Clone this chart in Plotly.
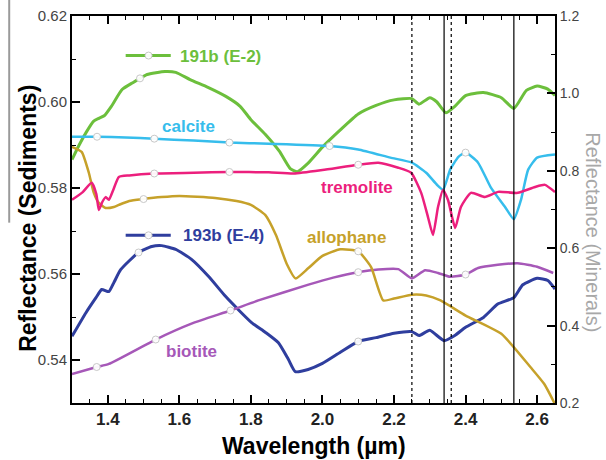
import plotly.graph_objects as go

# ---------------- data ----------------
# Sediment spectra (left axis)
e2_x = [1.30, 1.32, 1.34, 1.36, 1.375, 1.39, 1.41, 1.44, 1.47, 1.49, 1.51, 1.56, 1.59, 1.63, 1.68, 1.73,
        1.77, 1.80, 1.84, 1.88, 1.91, 1.93, 1.96, 2.00, 2.05, 2.10, 2.15, 2.20, 2.25, 2.27, 2.30, 2.32,
        2.345, 2.37, 2.40, 2.45, 2.50, 2.535, 2.57, 2.60, 2.63, 2.65]
e2_y = [0.5866, 0.5900, 0.5930, 0.5955, 0.5962, 0.5968, 0.5990, 0.6029, 0.6045, 0.6055, 0.6064, 0.6071,
        0.6069, 0.6052, 0.6034, 0.6013, 0.5990, 0.5959, 0.5925, 0.5885, 0.5845, 0.5838, 0.5858, 0.5895,
        0.5935, 0.5972, 0.5992, 0.6005, 0.6008, 0.5995, 0.6010, 0.6000, 0.5975, 0.5990, 0.6015, 0.6022,
        0.6010, 0.5985, 0.6027, 0.6037, 0.6030, 0.6015]

e4_x = [1.30, 1.339, 1.367, 1.383, 1.403, 1.417, 1.436, 1.486, 1.523, 1.551, 1.59, 1.634, 1.682, 1.729,
        1.765, 1.802, 1.841, 1.877, 1.905, 1.924, 1.96, 2.00, 2.05, 2.10, 2.15, 2.20, 2.25, 2.27, 2.30,
        2.34, 2.37, 2.40, 2.45, 2.49, 2.535, 2.56, 2.60, 2.63, 2.65]
e4_y = [0.5455, 0.5510, 0.5545, 0.5564, 0.5559, 0.5580, 0.5610, 0.5650, 0.5664, 0.5666, 0.5657, 0.5634,
        0.5594, 0.5548, 0.5517, 0.5487, 0.5464, 0.5440, 0.5401, 0.5373, 0.5378, 0.5392, 0.5418, 0.5443,
        0.5452, 0.5462, 0.5466, 0.5457, 0.5469, 0.5445, 0.5457, 0.5476, 0.5499, 0.5530, 0.5545, 0.5575,
        0.5590, 0.5585, 0.5565]

# Mineral spectra (right axis)
cal_x = [1.30, 1.37, 1.45, 1.53, 1.64, 1.74, 1.85, 2.02, 2.10, 2.19, 2.25, 2.29, 2.32, 2.337, 2.357,
         2.38, 2.40, 2.435, 2.47, 2.51, 2.535, 2.555, 2.575, 2.60, 2.65]
cal_y = [0.888, 0.888, 0.886, 0.883, 0.878, 0.873, 0.870, 0.864, 0.855, 0.834, 0.821, 0.795, 0.764,
         0.751, 0.803, 0.836, 0.847, 0.821, 0.758, 0.707, 0.675, 0.725, 0.803, 0.834, 0.842]

tre_x = [1.30, 1.33, 1.355, 1.368, 1.375, 1.385, 1.394, 1.403, 1.415, 1.431, 1.46, 1.53, 1.64, 1.74,
         1.85, 1.92, 2.00, 2.10, 2.156, 2.212, 2.248, 2.276, 2.295, 2.309, 2.323, 2.337, 2.351, 2.371,
         2.387, 2.415, 2.454, 2.491, 2.546, 2.594, 2.622, 2.65]
tre_y = [0.725, 0.745, 0.769, 0.740, 0.699, 0.720, 0.732, 0.725, 0.750, 0.784, 0.788, 0.793, 0.795,
         0.797, 0.796, 0.793, 0.802, 0.8156, 0.8208, 0.808, 0.795, 0.743, 0.6805, 0.634, 0.7065, 0.7506,
         0.7247, 0.652, 0.7065, 0.743, 0.7325, 0.7455, 0.743, 0.758, 0.7636, 0.745]

allo_x = [1.30, 1.327, 1.347, 1.361, 1.375, 1.394, 1.417, 1.431, 1.46, 1.50, 1.55, 1.60, 1.70, 1.76,
          1.80, 1.84, 1.87, 1.90, 1.925, 1.96, 2.00, 2.05, 2.10, 2.136, 2.17, 2.20, 2.25, 2.29, 2.33,
          2.40, 2.50, 2.583, 2.62, 2.65]
allo_y = [0.862, 0.849, 0.795, 0.743, 0.717, 0.704, 0.7065, 0.712, 0.722, 0.727, 0.732, 0.735, 0.730,
          0.722, 0.712, 0.686, 0.634, 0.560, 0.522, 0.548, 0.580, 0.597, 0.592, 0.551, 0.465, 0.470,
          0.480, 0.478, 0.465, 0.426, 0.379, 0.291, 0.249, 0.197]

bio_x = [1.30, 1.369, 1.403, 1.534, 1.634, 1.743, 1.821, 1.961, 2.03, 2.10, 2.156, 2.212, 2.25, 2.287,
         2.323, 2.357, 2.40, 2.435, 2.49, 2.546, 2.60, 2.645]
bio_y = [0.275, 0.293, 0.301, 0.364, 0.405, 0.439, 0.465, 0.506, 0.524, 0.538, 0.545, 0.546, 0.522,
         0.543, 0.536, 0.526, 0.532, 0.549, 0.557, 0.561, 0.552, 0.536]

# marker positions (x values taken from the series above)
e2_mk = [1.49]
e4_mk = [1.486, 2.10]
cal_mk = [1.37, 1.53, 1.74, 2.02, 2.40]
tre_mk = [1.53, 1.74, 2.10]
allo_mk = [1.50, 2.10]
bio_mk = [1.369, 1.534, 1.743, 2.10, 2.40]

# absorption feature lines
vl_solid = [2.34, 2.535]
vl_dot = [2.25, 2.36]

# ---------------- style ----------------
GREEN = "#6cbf3c"
BLUE = "#2f3e9e"
CYAN = "#36bdec"
PINK = "#ec1f7d"
GOLD = "#c6a12a"
PURPLE = "#a658b8"
FONT = "Liberation Sans, Arial, sans-serif"

fig = go.Figure()


def add_series(xs, ys, mk, color, axis, width):
    fig.add_trace(go.Scatter(x=xs, y=ys, mode="lines", yaxis=axis,
                             line=dict(color=color, width=width, shape="spline", smoothing=0.5),
                             hoverinfo="skip", showlegend=False))
    my = [ys[xs.index(v)] for v in mk]
    fig.add_trace(go.Scatter(x=mk, y=my, mode="markers", yaxis=axis,
                             marker=dict(symbol="circle", size=7, color="rgba(255,255,255,0.95)",
                                         line=dict(color="#c8c8c8", width=1)),
                             hoverinfo="skip", showlegend=False))


add_series(bio_x, bio_y, bio_mk, PURPLE, "y2", 2.5)
add_series(allo_x, allo_y, allo_mk, GOLD, "y2", 2.5)
add_series(e4_x, e4_y, e4_mk, BLUE, "y", 3)
add_series(cal_x, cal_y, cal_mk, CYAN, "y2", 2.5)
add_series(tre_x, tre_y, tre_mk, PINK, "y2", 2.5)
add_series(e2_x, e2_y, e2_mk, GREEN, "y", 3)

# legend keys for the two sediment samples
key_x = [1.450, 1.514, 1.576]
fig.add_trace(go.Scatter(x=key_x, y=[0.6108] * 3, mode="lines", yaxis="y",
                         line=dict(color=GREEN, width=3), hoverinfo="skip", showlegend=False))
fig.add_trace(go.Scatter(x=key_x, y=[0.5690] * 3, mode="lines", yaxis="y",
                         line=dict(color=BLUE, width=3), hoverinfo="skip", showlegend=False))
fig.add_trace(go.Scatter(x=[key_x[1], key_x[1]], y=[0.6108, 0.5690], mode="markers", yaxis="y",
                         marker=dict(symbol="circle", size=7, color="rgba(255,255,255,0.95)",
                                     line=dict(color="#c8c8c8", width=1)),
                         hoverinfo="skip", showlegend=False))

shapes = []
for v in vl_solid:
    shapes.append(dict(type="line", xref="x", yref="paper", x0=v, x1=v, y0=0, y1=1,
                       line=dict(color="black", width=1.2)))
for v in vl_dot:
    shapes.append(dict(type="line", xref="x", yref="paper", x0=v, x1=v, y0=0, y1=1,
                       line=dict(color="black", width=1.2, dash="dot")))
# cropping remnant line at far left
shapes.append(dict(type="line", xref="paper", yref="paper", x0=-0.130, x1=-0.130, y0=0.466, y1=1.05,
                   line=dict(color="#9a9a9a", width=2)))


def lab(text, x, y, color, xanchor="left"):
    return dict(text=text, x=x, y=y, xref="x", yref="y", showarrow=False, xanchor=xanchor,
                yanchor="middle", font=dict(family=FONT, size=17, color=color, weight="bold"))


annotations = [
    lab("191b (E-2)", 1.597, 0.6105, GREEN),
    lab("193b (E-4)", 1.606, 0.5690, BLUE),
    lab("calcite", 1.626, 0.5943, CYAN, "center"),
    lab("tremolite", 2.203, 0.5801, PINK, "right"),
    lab("allophane", 2.184, 0.5685, GOLD, "right"),
    lab("biotite", 1.634, 0.5420, PURPLE, "center"),
    dict(text="Reflectance (Sediments)", x=-0.091, y=0.476, xref="paper", yref="paper",
         showarrow=False, textangle=-90, xanchor="center", yanchor="middle",
         font=dict(family=FONT, size=23, color="black", weight="bold")),
    dict(text="Reflectance (Minerals)", x=1.078, y=0.442, xref="paper", yref="paper",
         showarrow=False, textangle=90, xanchor="center", yanchor="middle",
         font=dict(family=FONT, size=20, color="#a8a8a8")),
    dict(text="Wavelength (µm)", x=0.5, y=-0.112, xref="paper", yref="paper",
         showarrow=False, xanchor="center", yanchor="middle",
         font=dict(family=FONT, size=23, color="black", weight="bold")),
]

fig.update_layout(
    width=606, height=460,
    margin=dict(l=72, r=51, t=16, b=57),
    paper_bgcolor="white", plot_bgcolor="white",
    font=dict(family=FONT),
    shapes=shapes, annotations=annotations,
    xaxis=dict(range=[1.3, 2.65], tickmode="linear", tick0=1.4, dtick=0.2, tickformat=".1f",
               ticks="inside", ticklen=8, tickwidth=1.5, tickcolor="black",
               showline=True, linewidth=2, linecolor="black", mirror="ticks",
               showgrid=False, zeroline=False, automargin=False,
               minor=dict(tick0=1.4, dtick=0.05, ticks="inside", ticklen=4, tickwidth=1.2,
                          tickcolor="black", showgrid=False),
               tickfont=dict(family=FONT, size=17, color="#222", weight="bold")),
    yaxis=dict(range=[0.53, 0.62], tickmode="linear", tick0=0.54, dtick=0.02, tickformat=".2f",
               ticks="inside", ticklen=8, tickwidth=1.5, tickcolor="black",
               showline=True, linewidth=2, linecolor="black", showgrid=False, zeroline=False,
               automargin=False,
               minor=dict(tick0=0.54, dtick=0.01, ticks="inside", ticklen=4, tickwidth=1.2,
                          tickcolor="black", showgrid=False),
               tickfont=dict(family=FONT, size=15, color="#444")),
    yaxis2=dict(range=[0.2, 1.2], overlaying="y", side="right", tickmode="linear", tick0=0.2,
                dtick=0.2, tickformat=".1f", ticks="inside", ticklen=8, tickwidth=1.5,
                tickcolor="black", showline=True, linewidth=2, linecolor="black",
                showgrid=False, zeroline=False, automargin=False,
                minor=dict(tick0=0.2, dtick=0.1, ticks="inside", ticklen=4, tickwidth=1.2,
                           tickcolor="black", showgrid=False),
                tickfont=dict(family=FONT, size=14, color="#444")),
)

fig.write_html("out.html", config={"displayModeBar": False},
               post_script="document.body.style.margin='0px';")
